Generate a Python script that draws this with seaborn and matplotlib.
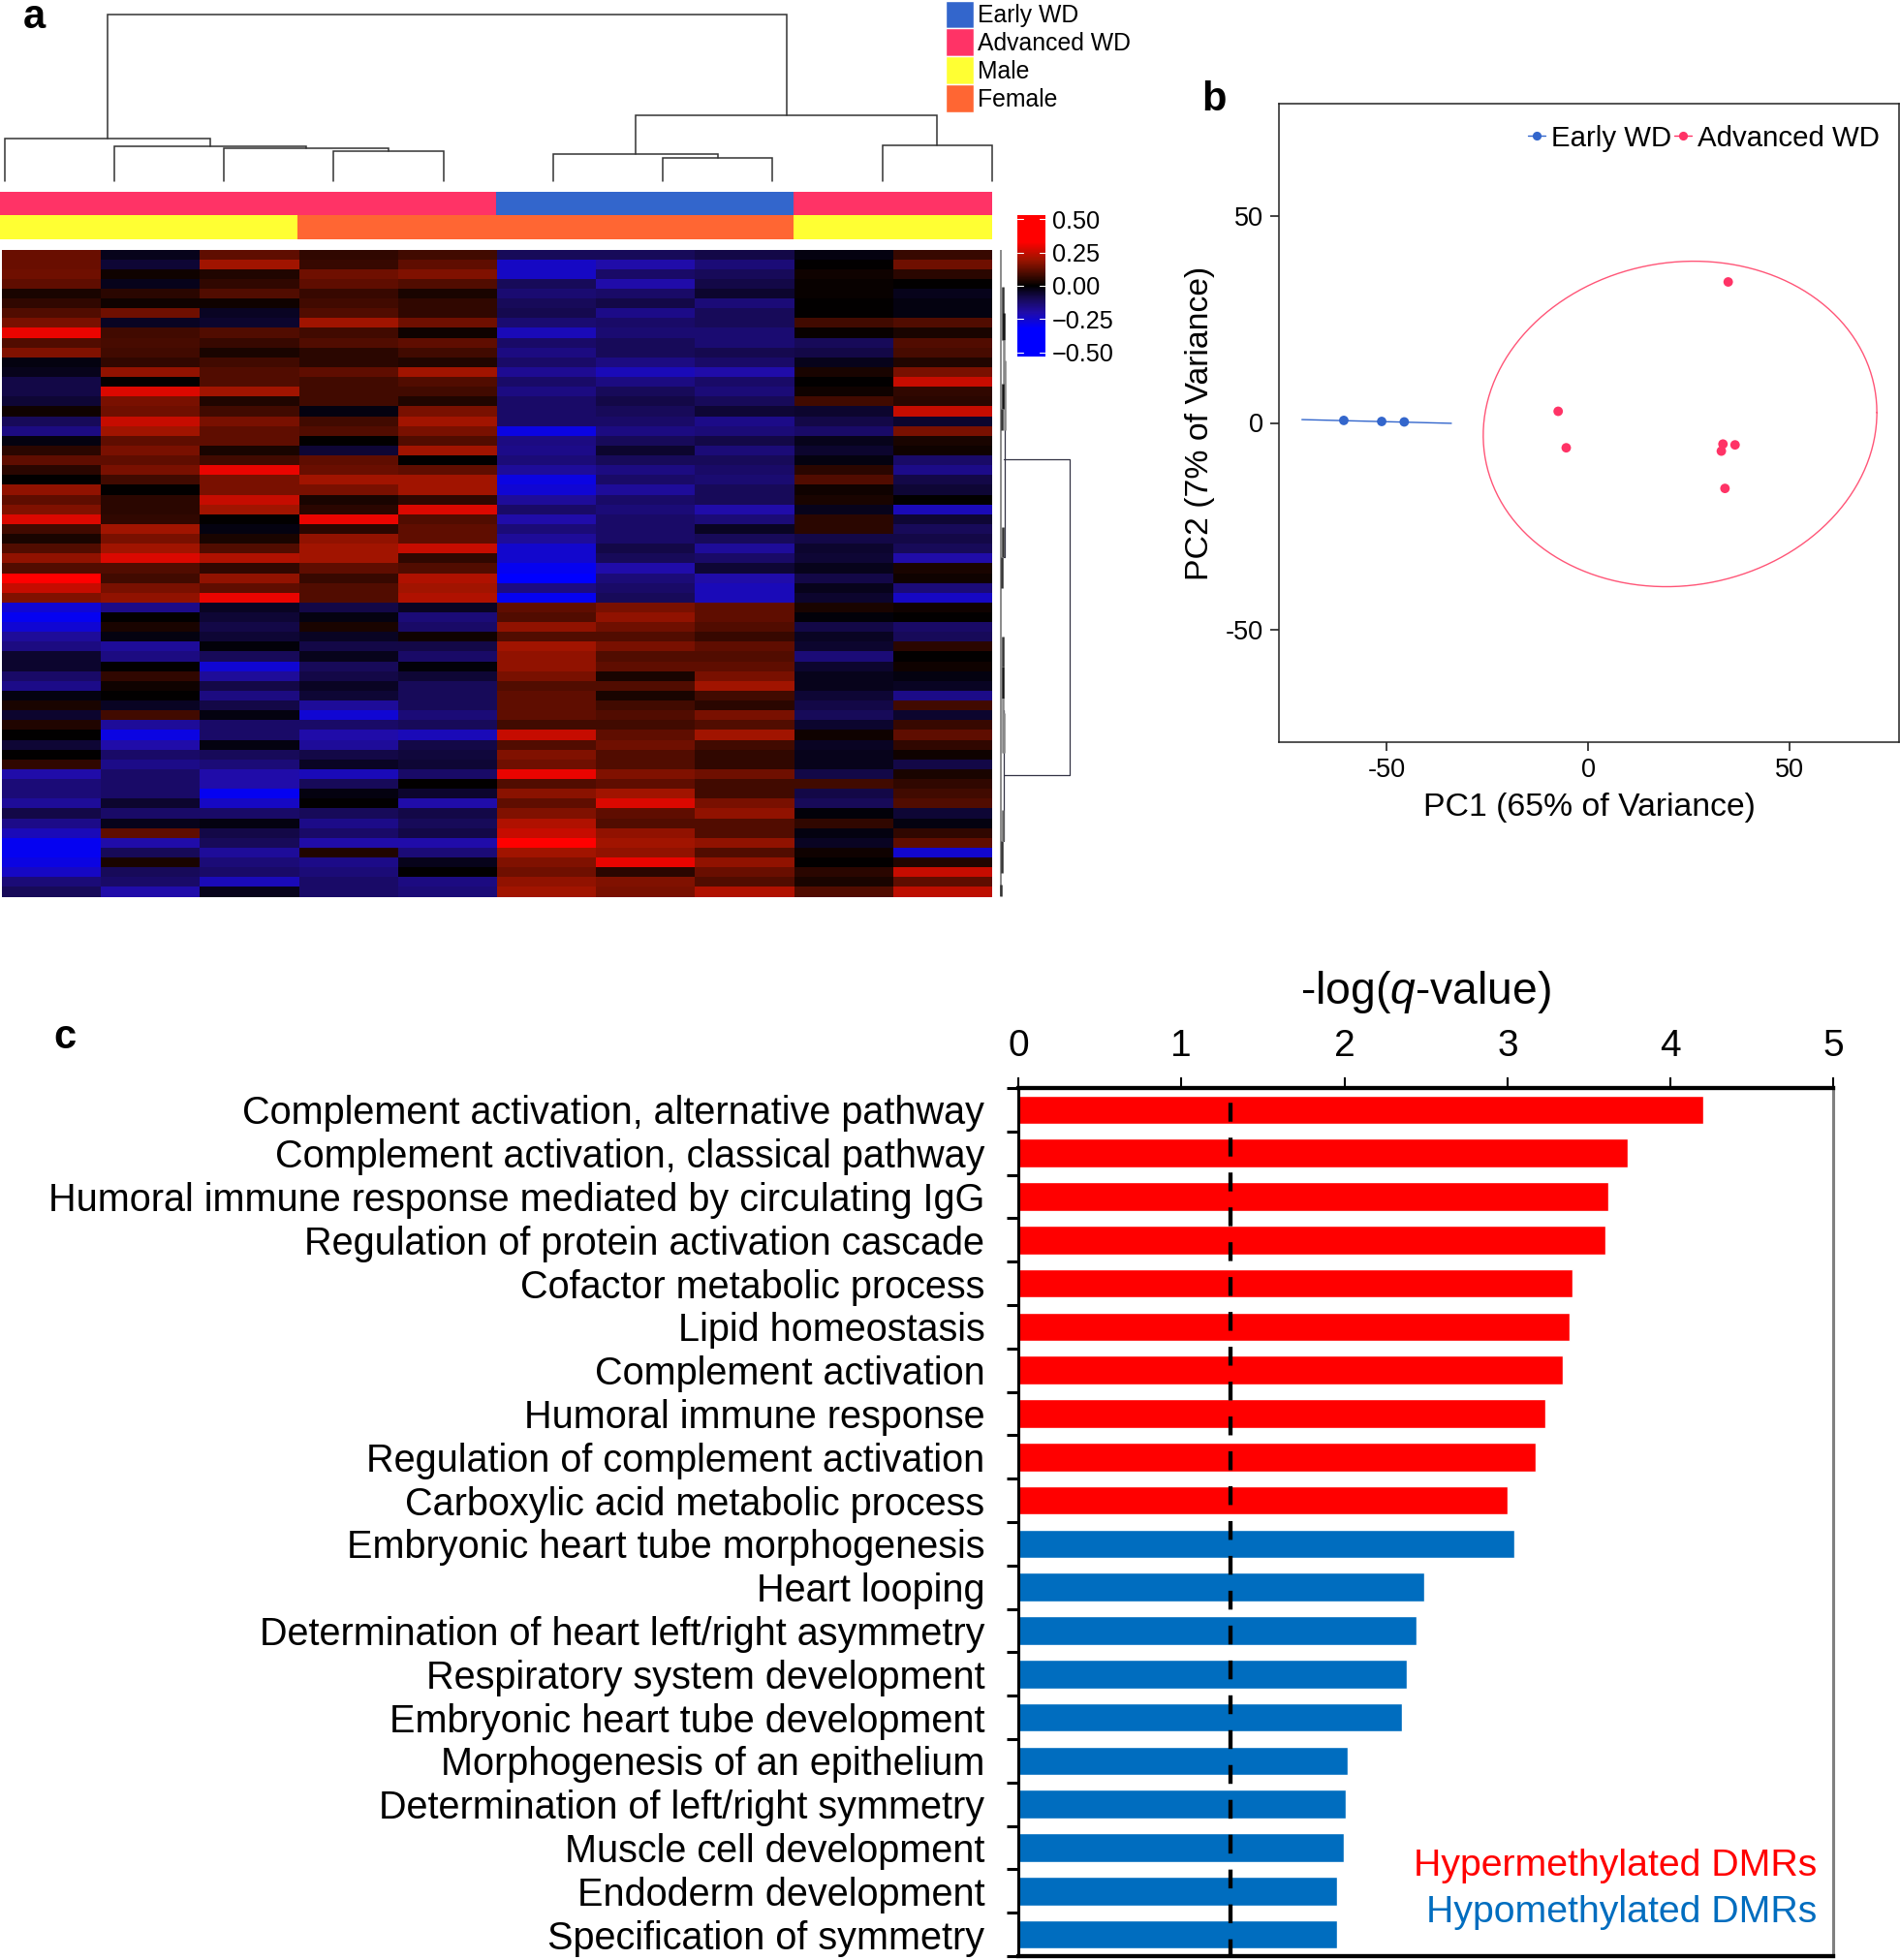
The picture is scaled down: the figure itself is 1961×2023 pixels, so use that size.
import numpy as np
import pandas as pd
import matplotlib
matplotlib.use('Agg')
import matplotlib.pyplot as plt
from matplotlib.colors import LinearSegmentedColormap, ListedColormap
from matplotlib.lines import Line2D
from matplotlib.patches import Patch
import seaborn as sns

W, H = 1961, 2023

# Panel a: sample annotation
stage_row = ['Advanced WD'] * 5 + ['Early WD'] * 3 + ['Advanced WD'] * 2
sex_row = ['Male'] * 3 + ['Female'] * 5 + ['Male'] * 2
group_names = ['Early WD', 'Advanced WD', 'Male', 'Female']
group_colors = ['#3366CC', '#FF3366', '#FFFF33', '#FF6633']

# Panel a: methylation blocks, top to bottom, one list per row band
heat_top = [
    [.13, -.03, .12, .06, .08, -.10, -.10, -.08, -.02, .07],
    [.13, -.06, .20, .07, .12, -.24, -.20, -.14, .00, .14],
    [.14, .02, .04, .14, .16, -.24, -.12, -.10, .02, .05],
    [.12, -.03, .06, .12, .10, -.10, -.20, -.08, .01, .00],
    [.03, .05, .10, .07, .03, -.13, -.12, -.05, .01, -.03],
    [.06, .02, .02, .08, .06, -.10, -.08, -.14, .00, -.02],
    [.10, .14, -.04, .10, .06, -.09, -.16, -.10, .00, -.02],
    [.15, -.04, -.05, .20, .14, -.13, -.12, -.10, .08, .10],
    [.30, .08, .10, .08, .02, -.22, -.13, -.13, .01, .03],
    [.10, .09, .07, .10, .12, -.12, -.10, -.13, -.10, .10],
    [.16, .08, .03, .05, .08, -.15, -.10, -.09, -.08, .09],
    [-.02, .06, .08, .05, .04, -.12, -.15, -.12, -.03, .04],
    [-.03, .18, .10, .12, .20, -.17, -.22, -.20, .03, .15],
    [-.08, .00, .10, .08, .10, -.12, -.15, -.12, .00, .25],
    [-.08, .28, .20, .08, .08, -.15, -.10, -.14, .02, .06],
    [-.06, .15, .04, .08, .04, -.12, -.08, -.10, .08, .05],
    [.02, .14, .08, -.02, .15, -.12, -.10, -.06, -.05, .25],
]
heat_upper = [
    [-.10, .25, .15, .08, .20, -.12, -.12, -.16, -.08, -.05],
    [-.15, .20, .12, .10, .15, -.28, -.15, -.14, -.12, .15],
    [-.02, .12, .12, .00, .10, -.15, -.10, -.08, -.03, .03],
    [.05, .15, .03, -.06, .20, -.16, -.05, -.14, -.05, .02],
    [.12, .12, .08, .12, .00, -.14, -.10, -.10, -.02, -.12],
    [.05, .15, .30, .13, .12, -.18, -.15, -.12, .05, -.16],
    [.00, .08, .15, .20, .20, -.28, -.12, -.13, .10, -.08],
    [.18, .00, .15, .15, .20, -.26, -.18, -.10, .02, -.06],
    [.12, .05, .25, .03, .06, -.18, -.12, -.10, .03, .00],
    [.16, .05, .20, .05, .28, -.12, -.14, -.20, -.03, -.22],
    [.28, .06, .00, .30, .10, -.20, -.12, -.14, .05, -.06],
    [.08, .20, -.02, .05, .12, -.14, -.12, -.04, .05, -.10],
    [.03, .15, .03, .18, .12, -.18, -.12, -.10, -.08, -.08],
    [.10, .20, .10, .20, .25, -.25, -.08, -.18, -.05, -.10],
    [.18, .28, .22, .20, .06, -.25, -.10, -.12, -.06, -.20],
    [.10, .10, .06, .12, .10, -.30, -.20, -.06, -.03, .03],
]
heat_lower = [
    [.33, .08, .18, .07, .22, -.34, -.14, -.20, -.08, .02],
    [.25, .15, .12, .10, .20, -.15, -.12, -.22, -.03, -.14],
    [.16, .18, .30, .10, .22, -.30, -.10, -.22, -.05, -.24],
    [-.26, -.16, -.04, -.08, -.04, .12, .15, .12, .03, .02],
    [-.30, .00, -.06, -.02, -.14, .10, .18, .12, -.01, .00],
    [-.26, .03, -.08, .03, -.12, .18, .14, .10, -.08, -.12],
    [-.18, -.02, -.06, -.04, .02, .10, .10, .07, -.04, -.10],
    [-.15, -.18, -.01, -.08, -.08, .20, .15, .12, -.05, .05],
    [-.05, -.15, -.10, -.03, -.12, .18, .10, .10, -.14, .00],
    [-.05, .00, -.26, -.10, -.01, .18, .12, .12, -.05, .02],
    [-.12, .06, -.18, -.08, -.06, .15, .03, .15, -.03, -.02],
    [-.16, .02, -.08, -.04, -.10, .10, .10, .20, -.03, -.04],
    [-.02, .00, -.15, -.06, -.10, .12, .03, .08, -.06, -.16],
    [.03, -.04, -.08, -.18, -.10, .12, .08, .05, -.08, .08],
    [-.05, .08, -.02, -.26, -.14, .12, .10, .15, -.10, -.05],
    [.04, -.18, -.12, -.12, -.10, .08, .08, .10, -.05, .07],
    [.00, -.28, -.12, -.20, -.22, .25, .12, .20, .02, .12],
]
heat_bottom = [
    [-.06, -.20, -.02, -.18, -.08, .10, .14, .08, -.04, .06],
    [.00, -.12, -.10, -.08, -.07, .16, .10, .06, -.03, .02],
    [.06, -.16, -.14, -.04, -.06, .14, .10, .06, -.03, -.08],
    [-.20, -.12, -.20, -.22, -.12, .30, .16, .14, -.08, .03],
    [-.14, -.12, -.20, -.10, .00, .10, .12, .08, .08, .06],
    [-.14, -.12, -.30, -.02, -.05, .17, .20, .08, -.08, .08],
    [-.18, -.05, -.24, .00, -.20, .12, .28, .15, -.10, .10],
    [-.08, -.12, -.12, -.10, -.08, .16, .12, .18, -.01, -.06],
    [-.16, -.03, -.02, -.16, -.10, .22, .10, .10, .06, -.02],
    [-.22, .12, -.08, -.12, -.08, .25, .18, .10, -.02, .06],
    [-.30, -.20, -.10, -.20, -.20, .34, .20, .18, -.04, .12],
    [-.30, -.10, -.18, .04, -.14, .20, .18, .10, .02, -.25],
    [-.28, .03, -.14, -.16, -.03, .16, .30, .18, .00, .04],
    [-.24, -.10, -.12, -.14, .00, .14, .05, .13, .05, .25],
    [-.14, -.12, -.22, -.12, -.15, .18, .16, .10, .03, .12],
    [-.10, -.20, -.03, -.12, -.14, .20, .15, .22, .10, .24],
]
cbar_ticks = [0.50, 0.25, 0.00, -0.25, -0.50]
cbar_labels = ['0.50', '0.25', '0.00', '\u22120.25', '\u22120.50']

# Panel a: column tree, (child, child, height), new nodes are numbered from 10
col_merges = [(3, 4, 31), (2, 10, 34), (1, 11, 36), (0, 12, 44), (6, 7, 24),
              (5, 14, 28), (8, 9, 37), (15, 16, 68), (13, 17, 172)]

# Panel a: row tree, main branches (top, bottom, height) and the squashed sub-branches
row_brackets = [(216, 542, 71), (115, 317, 4), (475, 610, 3)]
row_seg_top = [38, 65, 93, 114, 138, 164, 286, 317, 399, 430, 463, 478, 578, 610, 655]
row_seg_bot = [93, 93, 138, 186, 164, 186, 317, 349, 430, 463, 519, 519, 610, 643, 667]
row_seg_h = [1.5, 2.5, 2.5, 4, 1.5, 1, 1.5, 0.5, 1.5, 2, 1.5, 3, 2, 0.5, 0]
row_seg_shade = ['#333333', '#111111', '#888888', '#888888', '#111111', '#333333', '#333333', '#333333',
                 '#333333', '#111111', '#888888', '#888888', '#666666', '#333333', '#333333']

# Panel b: PCA
early_pc1 = [-60.7, -51.3, -45.7]
early_pc2 = [0.6, 0.35, 0.24]
adv_pc1 = [-7.5, -5.5, 34.7, 33.4, 33.0, 36.4, 33.9]
adv_pc2 = [2.8, -6.0, 34.0, -5.1, -6.8, -5.3, -15.8]
early_line_x = [-71.1, -34.0]
early_line_y = [0.8, -0.1]
# ellipse: centre, half extents and tilt of the advanced group
ell_cx, ell_cy, ell_ax, ell_ay, ell_rho = 22.75, -0.25, 48.85, 39.25, 0.07

# Panel c: enrichment
terms = ['Complement activation, alternative pathway', 'Complement activation, classical pathway',
         'Humoral immune response mediated by circulating IgG', 'Regulation of protein activation cascade',
         'Cofactor metabolic process', 'Lipid homeostasis', 'Complement activation', 'Humoral immune response',
         'Regulation of complement activation', 'Carboxylic acid metabolic process',
         'Embryonic heart tube morphogenesis', 'Heart looping', 'Determination of heart left/right asymmetry',
         'Respiratory system development', 'Embryonic heart tube development', 'Morphogenesis of an epithelium',
         'Determination of left/right symmetry', 'Muscle cell development', 'Endoderm development',
         'Specification of symmetry']
qvals = [4.20, 3.74, 3.62, 3.60, 3.40, 3.38, 3.34, 3.23, 3.175, 3.00,
         3.04, 2.49, 2.44, 2.38, 2.35, 2.02, 2.006, 1.995, 1.955, 1.955]
direction = ['Hypermethylated DMRs'] * 10 + ['Hypomethylated DMRs'] * 10
q_cutoff = 1.3

sns.set_theme(style='ticks')
plt.rcParams['font.family'] = ['Liberation Sans', 'DejaVu Sans']
plt.rcParams['mathtext.fontset'] = 'custom'
plt.rcParams['mathtext.rm'] = 'Liberation Sans'
plt.rcParams['mathtext.it'] = 'Liberation Sans:italic'
plt.rcParams['lines.scale_dashes'] = False
for key in ['text.color', 'axes.labelcolor', 'xtick.color', 'ytick.color']:
    plt.rcParams[key] = 'black'

fig = plt.figure(figsize=(W / 100, H / 100), dpi=100, facecolor='white')


def add_ax(x0, y0, x1, y1):
    # axes from pixel box, y counted from the top
    return fig.add_axes([x0 / W, 1 - y1 / H, (x1 - x0) / W, (y1 - y0) / H])


def draw_tree(ax, merges, n):
    pos = {i: i for i in range(n)}
    hgt = {i: 0 for i in range(n)}
    for k, (a, b, h) in enumerate(merges):
        ax.plot([pos[a], pos[a], pos[b], pos[b]], [hgt[a], h, h, hgt[b]],
                color='#333333', lw=1.1, clip_on=False, solid_joinstyle='miter')
        pos[n + k] = (pos[a] + pos[b]) / 2
        hgt[n + k] = h


# a: column dendrogram
ax_tree = add_ax(4.6, 15, 1024, 187)
draw_tree(ax_tree, col_merges, 10)
ax_tree.set_xlim(0, 9)
ax_tree.set_ylim(0, 172)
ax_tree.axis('off')

# a: annotation strips
code = {name: i for i, name in enumerate(group_names)}
strip = pd.DataFrame([[code[s] for s in stage_row], [code[s] for s in sex_row]])
ax_strip = add_ax(0, 198, 1024, 247)
sns.heatmap(strip, cmap=ListedColormap(group_colors), vmin=0, vmax=3, cbar=False,
            xticklabels=False, yticklabels=False, ax=ax_strip)

# a: heatmap with its colour key
heat = pd.DataFrame(heat_top + heat_upper + heat_lower + heat_bottom)
key_lim = 0.53


def key_pos(v):
    return 0.5 + v / (2 * key_lim)


cmap = LinearSegmentedColormap.from_list(
    'bkr', [(0, '#0000FF'), (key_pos(-.32), '#0000FF'), (key_pos(-.2), '#200CA8'), (key_pos(-.1), '#170A58'),
            (0.5, '#000000'), (key_pos(.1), '#500C00'), (key_pos(.2), '#A01400'),
            (key_pos(.33), '#FF0000'), (1, '#FF0000')], N=256)
ax_heat = add_ax(2, 257.5, 1024, 925.5)
ax_key = add_ax(1050, 222, 1079, 368)
sns.heatmap(heat, cmap=cmap, vmin=-key_lim, vmax=key_lim, xticklabels=False, yticklabels=False,
            ax=ax_heat, cbar_ax=ax_key, cbar_kws={'ticks': cbar_ticks})
ax_key.set_yticklabels(cbar_labels, fontsize=18.2)
ax_key.tick_params(axis='y', length=0, pad=5.2, labelcolor='black')
ax_heat.collections[0].colorbar.outline.set_visible(False)
for tick in cbar_ticks:
    ax_key.plot([0.78, 1.0], [tick, tick], color='white', lw=0.8, transform=ax_key.get_yaxis_transform())
    ax_key.plot([0, 0.2], [tick, tick], color='white', lw=0.8, transform=ax_key.get_yaxis_transform())

# a: row dendrogram
ax_rows = add_ax(1033, 258, 1105, 925)
ax_rows.vlines(0, 0, 667, color='#777777', lw=1.2, clip_on=False)
for top, bot, h in row_brackets:
    ax_rows.plot([2.5, h, h, 2.5], [top, top, bot, bot], color='#333344', lw=0.9, clip_on=False)
for top, bot, h, shade in zip(row_seg_top, row_seg_bot, row_seg_h, row_seg_shade):
    ax_rows.vlines(h, top, bot, color=shade, lw=1.8, clip_on=False)
ax_rows.set_xlim(0, 72)
ax_rows.set_ylim(667, 0)
ax_rows.axis('off')

handles = [Patch(facecolor=c, edgecolor='white', linewidth=1) for c in group_colors]
fig.legend(handles, group_names, loc='upper left', bbox_to_anchor=(976 / W, 1 - 0.5 / H), frameon=False,
           fontsize=17.8, handlelength=1.17, handleheight=1.42, labelspacing=0.0, handletextpad=0.16,
           borderpad=0, borderaxespad=0)

# b: PCA scatter
pca = pd.DataFrame({'PC1': early_pc1 + adv_pc1, 'PC2': early_pc2 + adv_pc2,
                    'group': ['Early WD'] * len(early_pc1) + ['Advanced WD'] * len(adv_pc1)})
pca_colors = {'Early WD': '#3366CC', 'Advanced WD': '#FF3366'}
ax_pca = add_ax(1320, 107, 1960, 766)
sns.scatterplot(data=pca, x='PC1', y='PC2', hue='group', palette=pca_colors, s=50, linewidth=0,
                legend=False, ax=ax_pca, zorder=3)
ax_pca.plot(early_line_x, early_line_y, color=pca_colors['Early WD'], lw=1.0)
t = np.linspace(0, 2 * np.pi, 300)
ax_pca.plot(ell_cx + ell_ax * np.cos(t),
            ell_cy + ell_ay * (ell_rho * np.cos(t) + np.sqrt(1 - ell_rho ** 2) * np.sin(t)),
            color='#FF5577', lw=1.0)
ax_pca.set_xlim(-76.8, 77.1)
ax_pca.set_ylim(-77, 77)
ax_pca.set_xticks([-50, 0, 50], ['-50', '0', '50'])
ax_pca.set_yticks([-50, 0, 50], ['-50', '0', '50'])
ax_pca.tick_params(labelsize=19.5, length=6.5, width=1.2, color='#222222', pad=5)
ax_pca.set_xlabel('PC1 (65% of Variance)', fontsize=24.3, labelpad=7)
ax_pca.set_ylabel('PC2 (7% of Variance)', fontsize=24.3, labelpad=8)
for side in ax_pca.spines.values():
    side.set_linewidth(1.1)
    side.set_color('#222222')
    side.set_visible(True)
pca_handles = [Line2D([], [], color=pca_colors[g], marker='o', ms=6.6, mew=0, lw=1) for g in pca_colors]
ax_pca.legend(pca_handles, list(pca_colors), loc='upper right', bbox_to_anchor=(0.969, 0.967), frameon=False,
              ncol=2, fontsize=21.2, handlelength=0.62, handletextpad=0.2, columnspacing=0.1,
              borderpad=0, borderaxespad=0)

# c: enrichment bars
enrich = pd.DataFrame({'term': terms, 'score': qvals, 'direction': direction})
ax_bar = add_ax(1051, 1123, 1892.5, 2019)
sns.barplot(data=enrich, y='term', x='score', hue='direction', dodge=False, width=0.66, legend=False,
            palette={'Hypermethylated DMRs': '#FF0000', 'Hypomethylated DMRs': '#006DBF'},
            saturation=1, ax=ax_bar)
ax_bar.plot([q_cutoff, q_cutoff], [-0.5, 19.5], color='black', lw=3.1, zorder=5, clip_on=False,
            ls=(14.9, (14.0, 11.9)))
ax_bar.set_xlim(0, 5)
ax_bar.set_ylim(19.47, -0.5)
ax_bar.xaxis.tick_top()
ax_bar.xaxis.set_label_position('top')
ax_bar.set_xticks([0, 1, 2, 3, 4, 5])
ax_bar.tick_params(axis='x', labelsize=28, length=8, width=1.5, color='black', pad=10.2)
ax_bar.set_yticks(range(len(terms)), terms)
ax_bar.tick_params(axis='y', which='major', labelsize=28.5, length=0, pad=25)
ax_bar.set_yticks(np.arange(-0.5, 20), minor=True)
ax_bar.tick_params(axis='y', which='minor', length=8.6, width=2.2, color='black')
ax_bar.set_xlabel('-log($\\mathit{q}$-value)', fontsize=33.3, labelpad=18.5)
ax_bar.set_ylabel('')
for side, width, shade in [('top', 3.1, 'black'), ('bottom', 3.1, 'black'), ('left', 2.2, 'black'), ('right', 2.2, '#808080')]:
    ax_bar.spines[side].set_visible(True)
    ax_bar.spines[side].set_linewidth(width)
    ax_bar.spines[side].set_color(shade)
fig.text(1875 / W, 1 - 1925.5 / H, 'Hypermethylated DMRs', color='#FF0000', fontsize=28.25, ha='right', va='center')
fig.text(1875 / W, 1 - 1973.5 / H, 'Hypomethylated DMRs', color='#006DBF', fontsize=28.25, ha='right', va='center')

for letter, px, py in [('a', 35, 18), ('b', 1253, 103), ('c', 67, 1071)]:
    fig.text(px / W, 1 - py / H, letter, fontsize=30, fontweight='bold', ha='center', va='center')

fig.savefig('out.png', dpi=100, facecolor='white')
